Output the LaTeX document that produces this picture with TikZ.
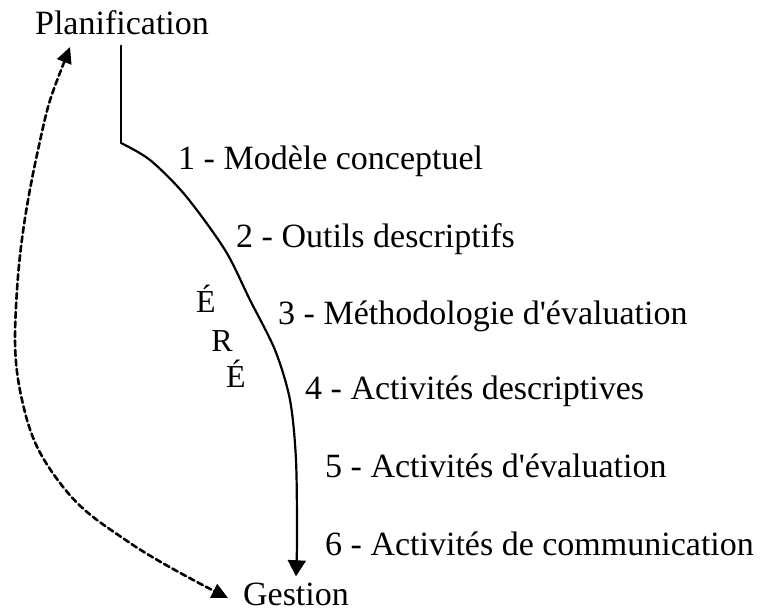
\documentclass[tikz,border=0pt]{standalone}
\usepackage{fontspec}
\setmainfont{Liberation Serif}
\usetikzlibrary{arrows.meta}
\begin{document}
\begin{tikzpicture}[x=1pt,y=1pt,line join=round,line cap=round,>={Triangle[length=16pt,width=18pt]},font=\fontsize{34}{40}\selectfont]
    \useasboundingbox (0,0) rectangle (760,613);
    \tikzset{etape/.style={anchor=base west,inner sep=0pt},
             lettre/.style={anchor=base,inner sep=0pt,font=\fontsize{32}{38}\selectfont}}
    \node[anchor=base,inner sep=0pt] (plan) at (122,578) {Planification};
    \node[anchor=base,inner sep=0pt] (gest) at (296,8) {Gestion};
    \node[etape] (e1) at (178,443) {1 - Modèle conceptuel};
    \node[etape] (e2) at (236,365) {2 - Outils descriptifs};
    \node[etape] (e3) at (278,288) {3 - Méthodologie d\textquotesingle évaluation};
    \node[etape] (e4) at (305,213) {4 - Activités descriptives};
    \node[etape] (e5) at (325,135) {5 - Activités d\textquotesingle évaluation};
    \node[etape] (e6) at (325,57) {6 - Activités de communication};
    \node[lettre] (l1) at (206,300) {É};
    \node[lettre] (l2) at (222,261) {R};
    \node[lettre] (l3) at (236,225) {É};
    % fil principal
    \coordinate (coude) at (121,470);
    \draw[line width=1.8pt] ([yshift=-10pt]plan.south -| coude) -- (coude);
    \draw[->,line width=2.2pt] plot[smooth,tension=0.5] coordinates {(coude) (150,453) (185,418) (225,363) (250,313) (275,263) (290,213) (296,153) (297,73) ([yshift=6pt]gest.north)};
    % retour
    \coordinate (dhaut) at (70,566);
    \coordinate (dbas) at (228,15);
    \draw[{Triangle[length=16pt,width=15pt]}-{Triangle[length=16pt,width=15pt]},dash pattern=on 6pt off 3.5pt,line width=2.6pt] plot[smooth,tension=0.7] coordinates {(dhaut) (38,463) (17,323) (22,213) (60,130) (130,70) (dbas)};
\end{tikzpicture}
\end{document}
